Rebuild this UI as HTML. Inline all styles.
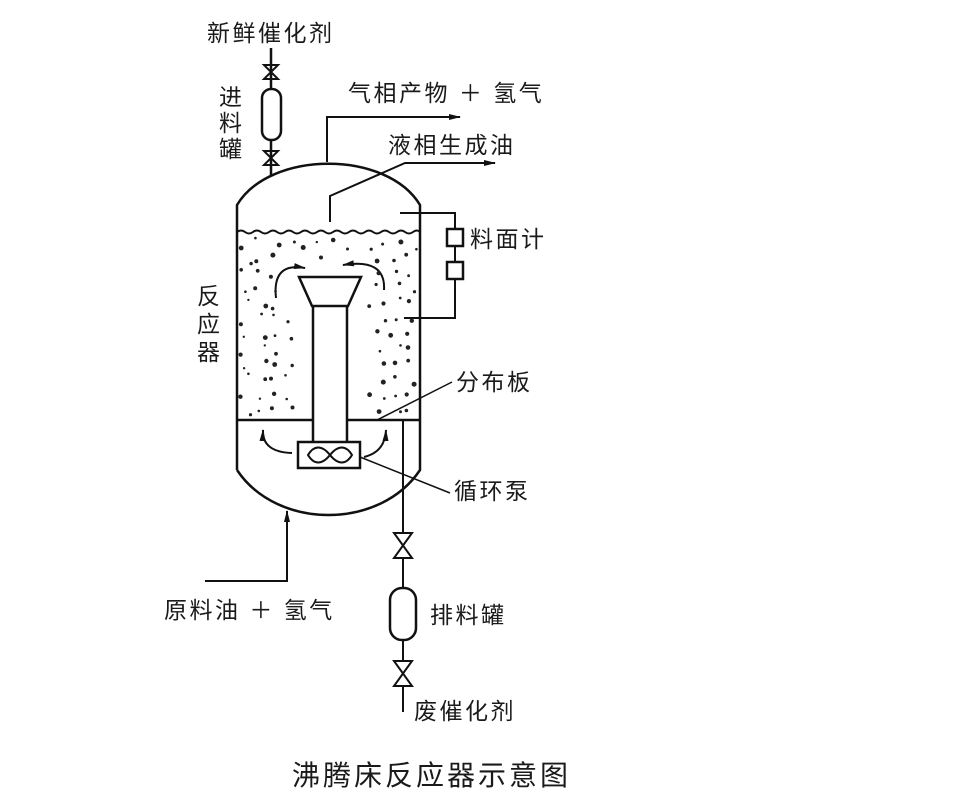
<!DOCTYPE html>
<html><head><meta charset="utf-8"><style>
html,body{margin:0;padding:0;background:#fff;width:960px;height:805px;overflow:hidden}
svg{display:block}
text{font-family:"Liberation Sans","Noto Sans CJK SC",sans-serif;fill:#1a1a1a}
</style></head><body>
<svg id="s" width="960" height="805" viewBox="0 0 960 805" xmlns="http://www.w3.org/2000/svg">
<defs><marker id="ar" markerWidth="12" markerHeight="8" refX="11" refY="4" orient="auto" markerUnits="userSpaceOnUse"><path d="M0,1 L12,4 L0,7 Z" fill="#111"/></marker></defs>
<g stroke="#111" stroke-width="2.5" fill="none">
<path d="M237,470 L237,205 C270,150 387,150 420,205 L420,470 C380,530 277,530 237,470"/>
<path d="M237,232 q4,-3 8,0 q4,3 8,0 q4,-3 8,0 q4,3 8,0 q4,-3 8,0 q4,3 8,0 q4,-3 8,0 q4,3 8,0 q4,-3 8,0 q4,3 8,0 q4,-3 8,0 q4,3 8,0 q4,-3 8,0 q4,3 8,0 q4,-3 8,0 q4,3 8,0 q4,-3 8,0 q4,3 8,0 q4,-3 8,0 q4,3 8,0 q4,-3 8,0 q4,3 8,0 q4,-3 7,0" stroke-width="2"/>
<path d="M237,420 L313,420 M347,420 L420,420"/>
<path d="M299,277 L361,277 L348,306 L312,306 Z"/>
<path d="M313,306 L313,442 M347,306 L347,442"/>
<rect x="298" y="442" width="62" height="26"/>
<path d="M308,455 c6,-10 14,-10 22,0 c8,10 16,10 22,0 c-6,-10 -14,-10 -22,0 c-8,10 -16,10 -22,0Z" stroke-width="2"/>
<g stroke-width="2">
<path d="M276,298 Q272,262 305,268" marker-end="url(#ar)"/>
<path d="M384,290 Q386,258 343,265" marker-end="url(#ar)"/>
<path d="M292,453 Q262,452 263,430" marker-end="url(#ar)"/>
<path d="M364,457 Q385,452 386,430" marker-end="url(#ar)"/>
</g>
<path d="M271,48 L271,176"/>
<path d="M264,65 L278,65 L264,79 L278,79 Z" stroke-width="2"/>
<path d="M264,151 L278,151 L264,165 L278,165 Z" stroke-width="2"/>
<rect x="262" y="89" width="19" height="51" rx="9" fill="#fff"/>
<path d="M327,162 L327,117 L460,117" stroke-width="2" marker-end="url(#ar)"/>
<path d="M330,222 L330,196 L405,163 L495,163" stroke-width="2" marker-end="url(#ar)"/>
<path d="M400,213 L455,213 L455,318 L404,318" stroke-width="2"/>
<rect x="447" y="229" width="16" height="17" fill="#fff"/>
<rect x="447" y="262" width="16" height="17" fill="#fff"/>
<path d="M377,420 L452,382 M360,457 L450,493" stroke-width="1.5"/>
<path d="M205,581 L287,581 L287,511" stroke-width="2" marker-end="url(#ar)"/>
<path d="M403,420 L403,712" stroke-width="2"/>
<path d="M394,533 L412,533 L394,558 L412,558 Z" stroke-width="2" fill="#fff"/>
<rect x="390" y="588" width="26" height="52" rx="12" fill="#fff"/>
<path d="M394,661 L412,661 L394,686 L412,686 Z" stroke-width="2" fill="#fff"/>
</g>
<g id="dots" fill="#222"></g>
<g font-size="23" letter-spacing="2.5">
<text x="207" y="41">新鲜催化剂</text>
<text x="348" y="101">气相产物 ＋ 氢气</text>
<text x="388" y="153">液相生成油</text>
<text x="470" y="247">料面计</text>
<text x="456" y="390">分布板</text>
<text x="454" y="499">循环泵</text>
<text x="164" y="618">原料油 ＋ 氢气</text>
<text x="430" y="623">排料罐</text>
<text x="414" y="719">废催化剂</text>
<text x="219" y="105">进</text><text x="219" y="131">料</text><text x="219" y="157">罐</text>
<text x="197" y="304">反</text><text x="197" y="332">应</text><text x="197" y="360">器</text>
</g>
<text x="292" y="785" font-size="28" letter-spacing="3">沸腾床反应器示意图</text>
</svg>
<script>
var g=document.getElementById('dots'),s=12345;function r(){s=(s*16807)%2147483647;return s/2147483647;}
for(var gy=244;gy<414;gy+=15){for(var gx=246;gx<414;gx+=15){
var x=gx+(r()-0.5)*12,y=gy+(r()-0.5)*12;
if(x>293&&x<367&&y>268)continue;if(x>288&&x<372&&y>258&&y<306)continue;
var c=document.createElementNS('http://www.w3.org/2000/svg','circle');c.setAttribute('cx',x.toFixed(1));c.setAttribute('cy',y.toFixed(1));c.setAttribute('r',(1.2+r()*1.3).toFixed(1));g.appendChild(c);}}
</script>
</body></html>
